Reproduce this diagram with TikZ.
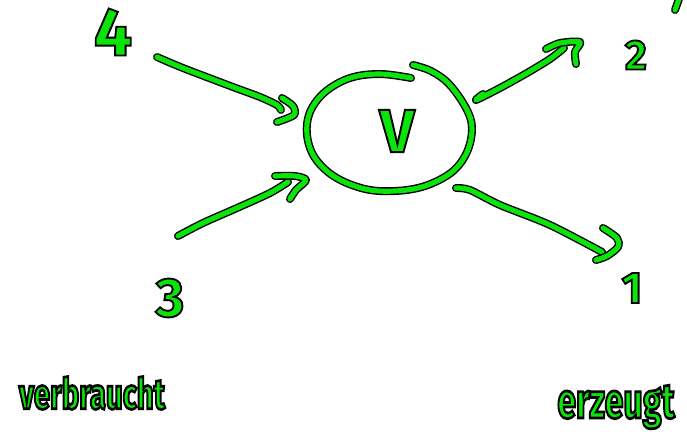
\documentclass[tikz,border=0pt]{standalone}
\usepackage{fontspec}
\setmainfont{Fira Sans}
\usetikzlibrary{positioning}
\definecolor{inkgreen}{RGB}{10,228,10}
% green letters with a black rim
\newcommand{\inktext}[1]{\special{pdf:literal 0 0 0 RG 2 Tr 1.6 w}#1\special{pdf:literal 0 Tr}}

\begin{document}
\begin{tikzpicture}[
    x=0.03cm, y=0.03cm,
    ink/.style={draw=black, line width=1.2pt, double=inkgreen, double distance=4.4pt,
                line cap=round, line join=round},
    lbl/.style={text=inkgreen, inner sep=0pt, font=\fontsize{#1}{#1}\selectfont\bfseries},
    word/.style={text=inkgreen, inner sep=0pt, transform shape, yscale=1.45,
                 font=\fontsize{#1}{#1}\selectfont\bfseries}
]
\useasboundingbox (0,0) rectangle (687,-447);

% labels
\node[lbl=58] (n4) at (113,-32) {\inktext{4}};
\node[lbl=47] (n3) at (170,-298) {\inktext{3}};
\node[lbl=36] (n2) at (636,-55) {\inktext{2}};
\node[lbl=38] (n1) at (632,-288) {\inktext{1}};
\node[lbl=52] (V) at (397,-131) {\inktext{V}};
\node[word=25] (used) at (92,-393) {\inktext{verbraucht}};
\node[word=29] (made) at (616,-407) {\inktext{erzeugt}};

% the vertex
\draw[ink] plot[smooth, tension=0.6] coordinates {(411,-78) (380,-74) (350,-78) (325,-92)
    (310,-112) (307,-135) (315,-158) (335,-177) (365,-189) (395,-191) (425,-186)
    (452,-172) (467,-152) (472,-128) (466,-108) (449,-84) (431,-71) (413,-65)};

% in
\coordinate (a4) at (157,-57);   \coordinate (b4) at (281,-110);
\coordinate (a3) at (178,-236);  \coordinate (b3) at (288,-182);
\draw[ink] plot[smooth] coordinates {(a4) (183,-68) (233,-87) (260,-97) (277,-105) (b4)};
\draw[ink] plot[smooth] coordinates {(282,-98) (293,-106) (294,-115) (277,-122)};
\draw[ink] plot[smooth] coordinates {(a3) (203,-223) (237,-208) (270,-193) (b3)};
\draw[ink] plot[smooth] coordinates {(275,-176) (295,-176) (306,-180) (296,-190) (290,-199)};

% out
\coordinate (a2) at (476,-100);  \coordinate (b2) at (564,-48);
\coordinate (a1) at (456,-188);  \coordinate (b1) at (602,-252);
\draw[ink] plot[smooth] coordinates {(483,-94) (a2) (500,-88) (527,-73) (550,-59) (b2)};
\draw[ink] plot[smooth] coordinates {(546,-49) (560,-43) (580,-42) (575,-52) (576,-64)};
\draw[ink] plot[smooth] coordinates {(a1) (470,-190) (500,-205) (550,-225) (b1)};
\draw[ink] plot[smooth] coordinates {(603,-228) (617,-238) (618,-247) (607,-256) (596,-260)};

\draw[ink] (679,1) -- (675,-10);
\end{tikzpicture}
\end{document}
